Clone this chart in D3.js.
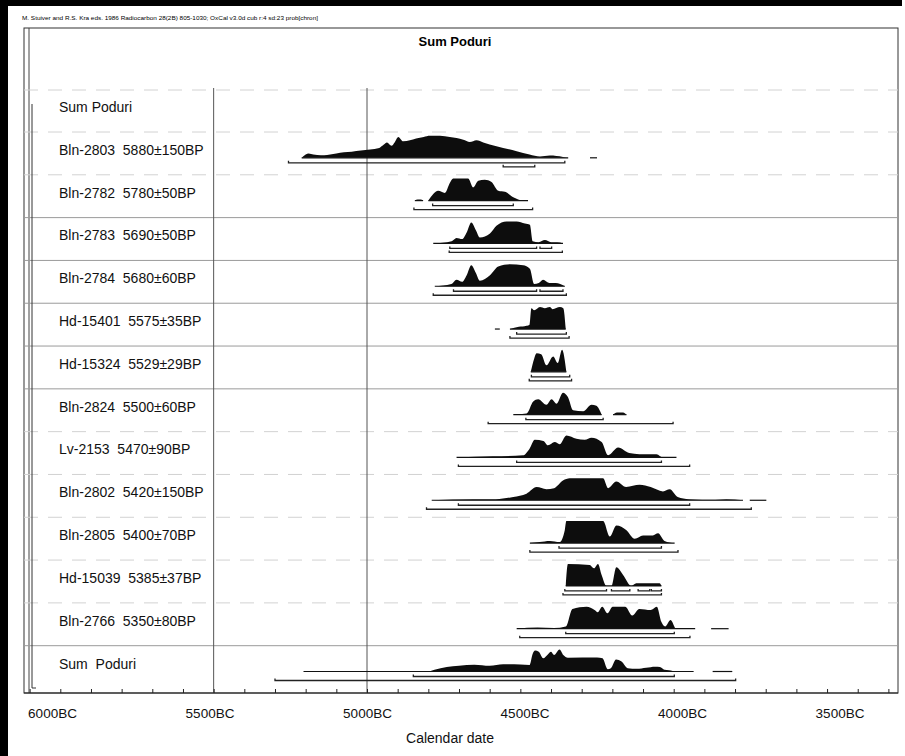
<!DOCTYPE html>
<html>
<head>
<meta charset='utf-8'>
<script src='https://d3js.org/d3.v7.min.js'></script>
<style>
body { margin: 0; background: #fff; }
svg { font-family: 'Liberation Sans', Arial, sans-serif; }
</style>
</head>
<body>
<div id='chart'></div>
<script>
// ---- data (years BC, relative probability) ----
const labels = ['Sum Poduri', 'Bln-2803  5880\u00b1150BP', 'Bln-2782  5780\u00b150BP', 'Bln-2783  5690\u00b150BP',
  'Bln-2784  5680\u00b160BP', 'Hd-15401  5575\u00b135BP', 'Hd-15324  5529\u00b129BP', 'Bln-2824  5500\u00b160BP',
  'Lv-2153  5470\u00b190BP', 'Bln-2802  5420\u00b1150BP', 'Bln-2805  5400\u00b170BP', 'Hd-15039  5385\u00b137BP',
  'Bln-2766  5350\u00b180BP', 'Sum  Poduri'];

const dists = [
  [],
  [[[5213,0],[5200,0.15],[5190,0.2],[5175,0.15],[5150,0.12],[5130,0.13],[5100,0.2],[5075,0.25],[5050,0.28],[5020,0.33],
    [4990,0.38],[4960,0.45],[4945,0.6],[4935,0.7],[4920,0.55],[4910,0.7],[4898,0.95],[4882,0.75],[4860,0.8],[4840,0.88],
    [4815,0.95],[4795,1.0],[4762,1.0],[4730,0.95],[4708,0.9],[4686,0.82],[4665,0.72],[4643,0.8],[4621,0.7],[4600,0.6],
    [4556,0.45],[4512,0.3],[4470,0.15],[4436,0.06],[4404,0.1],[4361,0.04],[4344,0]],
   [[4273,0],[4250,0]]],
  [[[4844,0],[4835,0.05],[4825,0.05],[4817,0]],
   [[4800,0],[4784,0.3],[4768,0.45],[4746,0.35],[4730,0.8],[4719,1.0],[4670,1.0],[4654,0.6],[4637,0.9],[4616,0.95],
    [4594,0.85],[4572,0.45],[4550,0.4],[4523,0.15],[4502,0.03],[4475,0]]],
  [[[4784,0],[4724,0.1],[4708,0.25],[4690,0.2],[4675,0.5],[4660,0.95],[4645,0.6],[4632,0.27],[4599,0.45],[4578,0.8],
    [4545,1.0],[4512,1.0],[4485,0.9],[4469,0.85],[4460,0.1],[4440,0.05],[4420,0.15],[4400,0.05],[4380,0.05],[4361,0]]],
  [[[4779,0],[4725,0.1],[4708,0.3],[4690,0.2],[4675,0.5],[4660,0.95],[4645,0.6],[4632,0.25],[4599,0.5],[4572,0.9],
    [4534,1.0],[4491,0.95],[4469,0.8],[4455,0.1],[4440,0.15],[4426,0.3],[4405,0.15],[4385,0.15],[4355,0]]],
  [[[4583,0],[4567,0]],
   [[4534,0],[4505,0.1],[4480,0.15],[4470,0.2],[4464,0.95],[4455,0.85],[4436,1.0],[4420,0.95],[4404,1.0],[4395,0.9],
    [4371,1.0],[4360,0.95],[4352,0]]],
  [[[4466,0],[4455,0.6],[4447,0.85],[4432,0.8],[4415,0.3],[4393,0.7],[4378,0.4],[4364,1.0],[4350,0]]],
  [[[4523,0],[4480,0.05],[4458,0.6],[4442,0.7],[4415,0.45],[4398,0.7],[4382,0.5],[4361,1.0],[4345,0.8],[4328,0.2],
    [4295,0.15],[4268,0.45],[4252,0.4],[4235,0]],
   [[4198,0],[4185,0.1],[4165,0.1],[4154,0]]],
  [[[4708,0],[4590,0.05],[4491,0.1],[4470,0.4],[4453,0.8],[4425,0.75],[4410,0.55],[4388,0.7],[4372,0.6],[4350,1.0],
    [4317,0.85],[4290,0.8],[4268,0.9],[4235,0.7],[4214,0.1],[4181,0.45],[4145,0.2],[4112,0.15],[4056,0.15],[4035,0],[3991,0]]],
  [[[4789,0],[4654,0.05],[4580,0.05],[4523,0.15],[4480,0.3],[4447,0.6],[4415,0.5],[4390,0.55],[4361,0.9],[4339,1.0],
    [4230,1.0],[4214,0.55],[4187,0.85],[4155,0.6],[4111,0.7],[4075,0.6],[4035,0.4],[4013,0.5],[3987,0.15],[3950,0.05],
    [3865,0.02],[3828,0.05],[3774,0]],
   [[3752,0],[3698,0]]],
  [[[4469,0],[4437,0.05],[4404,0.1],[4372,0.05],[4355,0.6],[4350,1.0],[4230,1.0],[4208,0.3],[4187,0.8],[4155,0.6],
    [4127,0.2],[4100,0.35],[4068,0.35],[4051,0.45],[4030,0.1],[3997,0]]],
  [[[4352,0],[4345,1.0],[4274,0.95],[4260,0.8],[4247,1.0],[4235,0.5],[4219,0],[4203,0],[4187,0.85],[4165,0.5],
    [4138,0],[4122,0.12],[4046,0.12],[4040,0]]],
  [[[4512,0],[4444,0.05],[4390,0.03],[4352,0.1],[4330,0.9],[4284,1.0],[4258,0.85],[4248,0.75],[4233,1.0],[4216,0.7],
    [4199,1.0],[4158,1.0],[4135,0.6],[4112,0.9],[4075,0.85],[4055,1.0],[4040,0.3],[4028,0.1],[4010,0.4],[3992,0],[3930,0]],
   [[3878,0],[3821,0]]],
  [[[5207,0],[4800,0],[4780,0.08],[4740,0.2],[4700,0.26],[4650,0.31],[4600,0.26],[4556,0.33],[4500,0.32],[4470,0.3],
    [4460,0.8],[4452,0.95],[4440,0.9],[4425,0.6],[4412,0.75],[4400,0.9],[4390,0.75],[4372,1.0],[4360,0.75],[4345,0.63],
    [4250,0.64],[4232,0.6],[4215,0.1],[4205,0.15],[4188,0.55],[4170,0.45],[4150,0.15],[4120,0.12],[4090,0.17],
    [4060,0.22],[4045,0.2],[4030,0.08],[4015,0.06],[3992,0],[3935,0]],
   [[3873,0],[3809,0]]]
];

// upper (68.2%) and lower (95.4%) range bars
const sigma1 = [[], [[5256,4355]], [[4786,4523]], [[4730,4447],[4436,4398]], [[4718,4447],[4436,4361]],
  [[4512,4350]], [[4464,4339]], [[4482,4230]], [[4512,4040]], [[4702,3948]], [[4374,4040]],
  [[4355,4219],[4203,4143],[4116,4078],[4073,4040]], [[4352,3998]], [[4849,3998]]];
const sigma2 = [[], [[4556,4453]], [[4847,4460]], [[4732,4363]], [[4784,4350]], [[4534,4341]], [[4471,4333]],
  [[4605,4002]], [[4702,3948]], [[4806,3747]], [[4469,3986]], [[4361,4040]], [[4502,3947]], [[5300,3798]]];

const tickYears = d3.range(6100, 3299, -100);
const labelYears = [6000, 5500, 5000, 4500, 4000, 3500];
const refLines = [5500, 5000];

const W = 905, H = 756;
const frame = { left: 24, right: 898, top: 28, bottom: 693 };

const svg = d3.select('#chart').append('svg').attr('width', W).attr('height', H);
svg.append('rect').attr('width', W).attr('height', H).attr('fill', '#fff');

const x = d3.scaleLinear().domain([5000, 4000]).range([367, 673.7]);
// the printed year labels sit on a slightly wider spacing than the tick marks
const xLab = d3.scaleLinear().domain([5000, 4000]).range([367, 682]);
const rowY = d3.scaleLinear().domain([0, 13]).range([115, 671.5]);
const hY = d3.scaleLinear().domain([0, 1]).range([0, 22]);

// scan border
svg.append('rect').attr('x', 0).attr('y', 0).attr('width', 902).attr('height', 6).attr('fill', '#000');
svg.append('rect').attr('x', 0).attr('y', 0).attr('width', 8).attr('height', H).attr('fill', '#000');

svg.append('text').attr('x', 22).attr('y', 20).attr('font-size', 6).attr('textLength', 296)
  .attr('lengthAdjust', 'spacingAndGlyphs')
  .text('M. Stuiver and R.S. Kra eds. 1986 Radiocarbon 28(2B) 805-1030;  OxCal v3.0d cub r:4 sd:23 prob[chron]');

svg.append('text').attr('x', 455).attr('y', 46).attr('text-anchor', 'middle')
  .attr('font-size', 13).attr('font-weight', 'bold').text('Sum Poduri');

// frame
svg.append('rect').attr('x', frame.left).attr('y', frame.top)
  .attr('width', frame.right - frame.left).attr('height', frame.bottom - frame.top)
  .attr('fill', 'none').attr('stroke', '#333').attr('stroke-width', 1);
svg.append('line').attr('x1', 29).attr('x2', 29).attr('y1', frame.top).attr('y2', frame.bottom)
  .attr('stroke', '#444');

// row separators
const sepY = [90].concat(d3.range(0, 13).map(i => rowY(i) + 17));
const sepSolid = [false, false, false, true, true, true, true, true, false, false, false, false, false, true];
svg.append('g').selectAll('line').data(sepY).join('line')
  .attr('x1', frame.left).attr('x2', frame.right)
  .attr('y1', d => d).attr('y2', d => d)
  .attr('stroke', (d, i) => sepSolid[i] ? '#9a9a9a' : '#d2d2d2')
  .attr('stroke-dasharray', (d, i) => sepSolid[i] ? null : '14,10');

// reference lines
svg.append('g').selectAll('line').data(refLines).join('line')
  .attr('x1', d => x(d)).attr('x2', d => x(d)).attr('y1', 88).attr('y2', frame.bottom)
  .attr('stroke', '#555').attr('stroke-width', 1);

// group bracket
svg.append('path').attr('d', `M32,104V688H36`).attr('fill', 'none').attr('stroke', '#333');

// labels
svg.append('g').selectAll('text').data(labels).join('text')
  .attr('x', 59).attr('y', (d, i) => rowY(i) - 3)
  .attr('font-size', 14).attr('fill', '#111')
  .style('white-space', 'pre').text(d => d);

// distributions
const rows = svg.append('g');
dists.forEach((pieces, i) => {
  const base = rowY(i);
  const area = d3.area().x(d => x(d[0])).y0(base).y1(d => base - hY(d[1])).curve(d3.curveMonotoneX);
  pieces.forEach(p => {
    rows.append('path').datum(p).attr('d', area).attr('fill', '#0d0d0d');
    rows.append('line').attr('x1', x(p[0][0])).attr('x2', x(p[p.length - 1][0]))
      .attr('y1', base).attr('y2', base).attr('stroke', '#111').attr('stroke-width', 1.2);
  });
  [[sigma1[i], 5], [sigma2[i], 9]].forEach(([bars, off]) => {
    bars.forEach(b => {
      const y = base + off;
      rows.append('path')
        .attr('d', `M${x(b[0])},${y - 2}V${y}H${x(b[1])}V${y - 2}`)
        .attr('fill', 'none').attr('stroke', '#222').attr('stroke-width', 1.3);
    });
  });
});

// axis
const axisG = svg.append('g').attr('transform', `translate(0,${frame.bottom})`);
axisG.call(d3.axisBottom(x).tickValues(tickYears).tickSize(-4).tickSizeOuter(0).tickFormat(''));
axisG.select('.domain').remove();
axisG.selectAll('.tick line').attr('stroke', '#222');
svg.append('line').attr('x1', frame.left).attr('x2', frame.right)
  .attr('y1', frame.bottom).attr('y2', frame.bottom).attr('stroke', '#222').attr('stroke-width', 1.2);

const labG = svg.append('g').attr('transform', `translate(0,${frame.bottom})`);
labG.call(d3.axisBottom(xLab).tickValues(labelYears).tickSize(0).tickPadding(15).tickFormat(d => d + 'BC'));
labG.select('.domain').remove();
labG.selectAll('text').attr('font-size', 13.5).attr('font-family', "'Liberation Sans', Arial, sans-serif").attr('fill', '#111');

svg.append('text').attr('x', 450).attr('y', 743).attr('text-anchor', 'middle')
  .attr('font-size', 14).attr('fill', '#111').text('Calendar date');
</script>
</body>
</html>
